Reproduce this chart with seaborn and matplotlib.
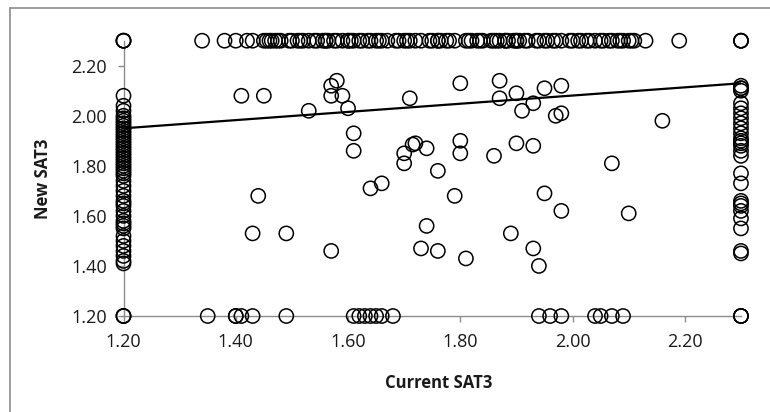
import matplotlib
matplotlib.use("Agg")
import matplotlib.pyplot as plt
from matplotlib.lines import Line2D
import seaborn as sns
import pandas as pd

# points inside the plot area
mid_x = [1.41, 1.45, 1.53, 1.57, 1.58, 1.57, 1.59, 1.60, 1.61, 1.61,
         1.44, 1.43, 1.49, 1.57, 1.64, 1.66, 1.71, 1.72, 1.715, 1.74,
         1.70, 1.70, 1.76, 1.74, 1.73, 1.76, 1.80, 1.87, 1.87, 1.90,
         1.95, 1.98, 1.93, 1.91, 1.97, 1.98, 2.16, 1.80, 1.80, 1.86,
         1.90, 1.93, 2.07, 1.79, 1.95, 1.98, 2.10, 1.89, 1.93, 1.94,
         1.81]
mid_y = [2.08, 2.08, 2.02, 2.12, 2.14, 2.08, 2.08, 2.03, 1.93, 1.86,
         1.68, 1.53, 1.53, 1.46, 1.71, 1.73, 2.07, 1.89, 1.885, 1.87,
         1.85, 1.81, 1.78, 1.56, 1.47, 1.46, 2.13, 2.14, 2.07, 2.09,
         2.11, 2.12, 2.05, 2.02, 2.00, 2.01, 1.98, 1.90, 1.85, 1.84,
         1.89, 1.88, 1.81, 1.68, 1.69, 1.62, 1.61, 1.53, 1.47, 1.40,
         1.43]

# Current SAT3 of the points sitting on New SAT3 = 2.30
top_x = [1.34, 1.38, 1.40, 1.42, 1.43, 1.45, 1.455, 1.46, 1.464, 1.47,
         1.475, 1.48, 1.495, 1.50, 1.51, 1.515, 1.52, 1.53, 1.54, 1.545,
         1.555, 1.56, 1.56, 1.565, 1.575, 1.58, 1.59, 1.60, 1.60, 1.605,
         1.61, 1.62, 1.625, 1.635, 1.64, 1.65, 1.655, 1.66, 1.67, 1.685,
         1.69, 1.70, 1.705, 1.71, 1.72, 1.73, 1.745, 1.75, 1.76, 1.76,
         1.765, 1.775, 1.78, 1.79, 1.81, 1.815, 1.82, 1.83, 1.835, 1.84,
         1.855, 1.86, 1.865, 1.87, 1.88, 1.88, 1.885, 1.895, 1.90, 1.90,
         1.905, 1.915, 1.92, 1.935, 1.94, 1.95, 1.955, 1.965, 1.97, 1.98,
         1.995, 2.00, 2.01, 2.015, 2.025, 2.03, 2.04, 2.05, 2.055, 2.065,
         2.07, 2.08, 2.085, 2.09, 2.10, 2.105, 2.11, 2.13, 2.19]

# Current SAT3 of the points sitting on New SAT3 = 1.20
bottom_x = [1.35, 1.40, 1.40, 1.41, 1.43, 1.49, 1.61, 1.62, 1.63, 1.64,
            1.65, 1.66, 1.68, 1.94, 1.96, 1.98, 2.04, 2.05, 2.07, 2.09]

# New SAT3 of the points sitting on Current SAT3 = 1.20
left_y = [2.08, 2.04, 2.02, 2.00, 1.99, 1.98, 1.97, 1.96, 1.95, 1.94,
          1.93, 1.92, 1.91, 1.90, 1.89, 1.88, 1.87, 1.86, 1.85, 1.84,
          1.83, 1.82, 1.81, 1.80, 1.79, 1.78, 1.77, 1.76, 1.74, 1.72,
          1.70, 1.68, 1.66, 1.65, 1.64, 1.62, 1.60, 1.58, 1.57, 1.56,
          1.55, 1.52, 1.50, 1.48, 1.46, 1.44, 1.42, 1.41]

# New SAT3 of the points sitting on Current SAT3 = 2.30
right_y = [2.12, 2.11, 2.11, 2.10, 2.05, 2.03, 2.01, 1.99, 1.97, 1.95,
           1.93, 1.91, 1.90, 1.89, 1.88, 1.86, 1.84, 1.77, 1.73, 1.66,
           1.65, 1.64, 1.62, 1.59, 1.55, 1.46, 1.45]

corner_x = [1.2, 1.2, 1.2, 1.2, 1.2, 1.2, 2.3, 2.3, 2.3, 2.3, 2.3, 2.3]
corner_y = [2.3, 2.3, 2.3, 1.2, 1.2, 1.2, 2.3, 2.3, 2.3, 1.2, 1.2, 1.2]

trend_x = [1.20, 2.30]
trend_y = [1.95, 2.13]

ticks = [1.2, 1.4, 1.6, 1.8, 2.0, 2.2]

df = pd.DataFrame({
    "current": mid_x + top_x + bottom_x + [1.2] * len(left_y) + [2.3] * len(right_y) + corner_x,
    "new": mid_y + [2.3] * len(top_x) + [1.2] * len(bottom_x) + left_y + right_y + corner_y,
})

sns.set_style("white")
plt.rcParams["font.family"] = ["Open Sans", "DejaVu Sans"]

fig = plt.figure(figsize=(7.7, 4.12), dpi=100)
ax = fig.add_axes([0.1604, 0.2330, 0.8019, 0.6682])

sns.lineplot(x=trend_x, y=trend_y, color="black", linewidth=1.6, ax=ax, zorder=3)
sns.scatterplot(data=df, x="current", y="new", marker="o", s=105,
                fc="none", ec="black", linewidth=1.1, ax=ax, zorder=4, clip_on=False)

ax.set_xlim(1.2, 2.3)
ax.set_ylim(1.2, 2.3)
ax.set_xticks(ticks)
ax.set_yticks(ticks)
ax.set_xticklabels(["%.2f" % t for t in ticks])
ax.set_yticklabels(["%.2f" % t for t in ticks])

for side in ["top", "right"]:
    ax.spines[side].set_visible(False)
for side in ["left", "bottom"]:
    ax.spines[side].set_color("#8c8c8c")
    ax.spines[side].set_linewidth(1.0)

ax.tick_params(axis="both", direction="out", length=4, width=1, color="#8c8c8c",
               labelsize=13, labelcolor="#1a1a1a", left=True, bottom=True, pad=8)

ax.set_xlabel("Current SAT3", fontsize=12, fontweight="bold", color="#1a1a1a")
ax.set_ylabel("New SAT3", fontsize=12, fontweight="bold", color="#1a1a1a")
ax.xaxis.set_label_coords(0.511, -0.243)
ax.xaxis.label.set_va("center")
ax.yaxis.set_label_coords(-0.130, 0.5)
ax.yaxis.label.set_va("center")

# chart area border (only top and left edge inside the picture)
fig.add_artist(Line2D([0.0125, 1.0], [0.98, 0.98], color="#8c8c8c", linewidth=1.2))
fig.add_artist(Line2D([0.0125, 0.0125], [0.0, 0.98], color="#8c8c8c", linewidth=1.2))

fig.savefig("out.png", dpi=100, facecolor="white")
